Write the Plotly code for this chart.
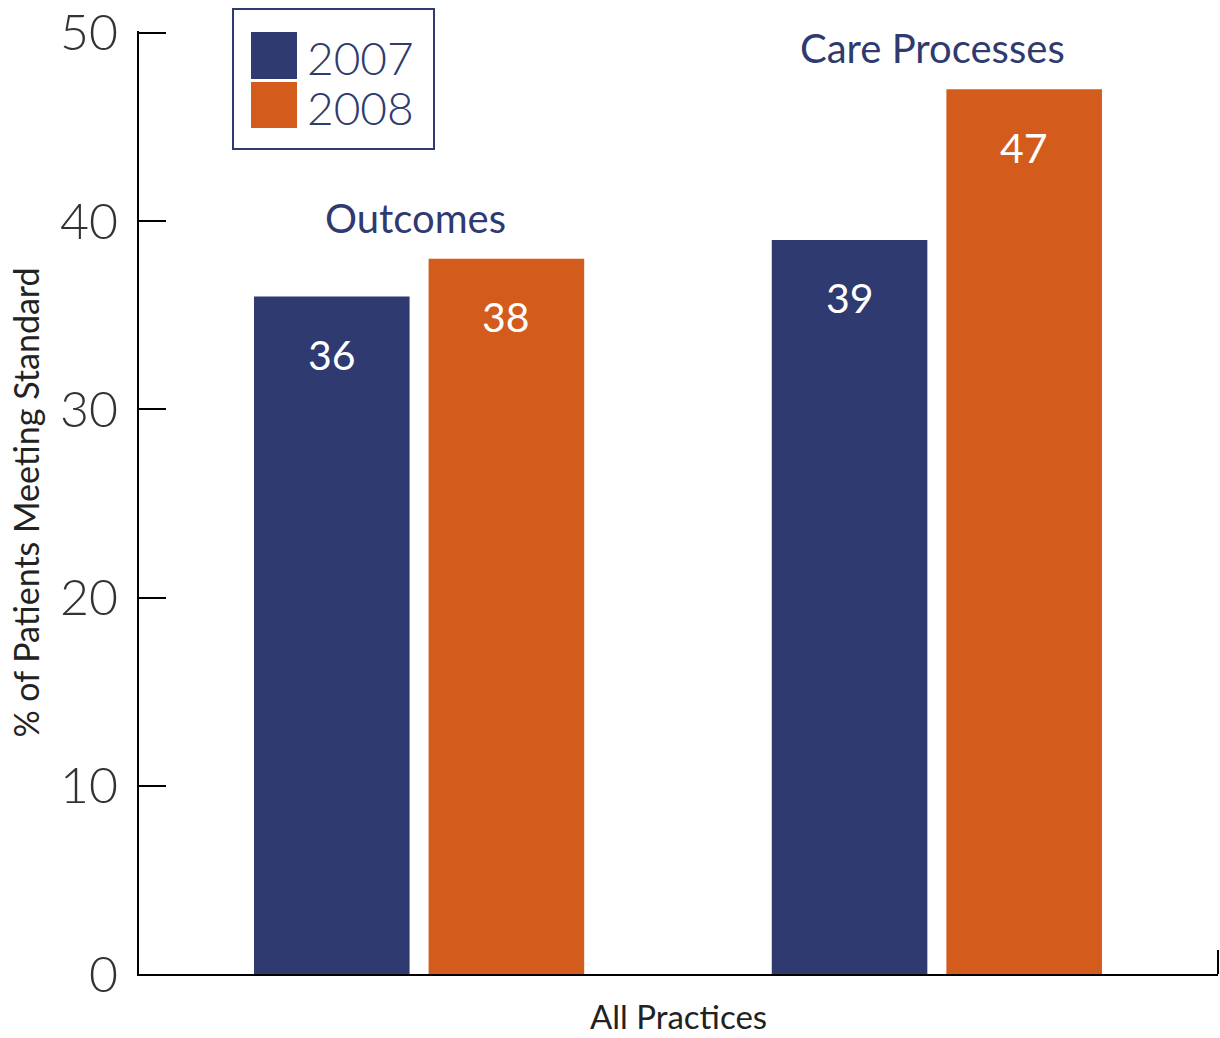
import plotly.graph_objects as go

# ---- data ----
categories = ["Outcomes", "Care Processes"]
years = ["2007", "2008"]
values_2007 = [36, 39]
values_2008 = [38, 47]
y_ticks = [0, 10, 20, 30, 40, 50]
y_title = "% of Patients Meeting Standard"
x_title = "All Practices"

NAVY = "#2E3A70"
ORANGE = "#D35B1C"
FONT = "Lato, 'Open Sans', sans-serif"

W, H = 1220, 1038
L, R, T, B = 139, 2, 31, 64
PW, PH = W - L - R, H - T - B


def px(x):
    return (x - L) / PW


def py(y):
    return (H - B - y) / PH


fig = go.Figure()
series = [(years[0], values_2007, NAVY), (years[1], values_2008, ORANGE)]
for name, vals, col in series:
    fig.add_trace(go.Bar(
        name=name, x=categories, y=vals,
        marker=dict(color=col, line=dict(width=0)),
        showlegend=False, hoverinfo="x+y+name",
    ))

annotations = []
shapes = []

# value labels inside bars (white)
for i, (name, vals, col) in enumerate(series):
    for c, v in zip(categories, vals):
        annotations.append(dict(
            x=c, y=v, xref="x", yref="y", text=str(v), showarrow=False,
            xshift=(-87 if i == 0 else 87), yshift=-58,
            font=dict(family=FONT, size=41, color="white"),
        ))

# group labels above bars
for c, v1, v2 in zip(categories, values_2007, values_2008):
    annotations.append(dict(
        x=c, y=max(v1, v2), xref="x", yref="y", text=c, showarrow=False,
        yanchor="bottom", yshift=15, xshift=-4,
        font=dict(family=FONT, size=40, color=NAVY),
    ))

# custom legend box
shapes.append(dict(type="rect", xref="paper", yref="paper",
                   x0=px(233), x1=px(434), y0=py(149), y1=py(9),
                   line=dict(color=NAVY, width=2), fillcolor="white", layer="above"))
sw_rows = [(32, 79), (82, 128)]
for (name, vals, col), (ya, yb) in zip(series, sw_rows):
    shapes.append(dict(type="rect", xref="paper", yref="paper",
                       x0=px(251), x1=px(297), y0=py(yb), y1=py(ya),
                       line=dict(width=0), fillcolor=col, layer="above"))
    annotations.append(dict(
        x=px(305), y=py((ya + yb) / 2 + 2), xref="paper", yref="paper",
        text=name, showarrow=False, xanchor="left", yanchor="middle",
        font=dict(family=FONT, size=46, color=NAVY, weight=300),
    ))

# small upward tick at right end of x axis
shapes.append(dict(type="line", xref="paper", yref="paper",
                   x0=1, x1=1, y0=0, y1=24 / PH,
                   line=dict(color="black", width=2)))

fig.update_layout(
    width=W, height=H,
    margin=dict(l=L, r=R, t=T, b=B, autoexpand=False),
    paper_bgcolor="white", plot_bgcolor="white",
    barmode="group", bargap=0.3255, bargroupgap=0.109,
    font=dict(family=FONT, color="#222"),
    annotations=annotations, shapes=shapes,
    xaxis=dict(
        type="category", range=[-0.541, 1.543],
        showticklabels=False, ticks="", showgrid=False, zeroline=False,
        showline=True, linecolor="black", linewidth=2,
        title=dict(text=x_title, font=dict(family=FONT, size=33, color="#222"), standoff=31),
        automargin=False,
    ),
    yaxis=dict(
        range=[0, 50.1], tickvals=y_ticks, ticktext=[str(t) for t in y_ticks],
        ticks="inside", ticklen=27, tickwidth=2, tickcolor="black",
        showline=True, linecolor="black", linewidth=2,
        showgrid=False, zeroline=False,
        tickfont=dict(family=FONT, size=50, color="#333", weight=300),
        ticklabelstandoff=9,
        title=dict(text=y_title, font=dict(family=FONT, size=34, color="#222"), standoff=10),
        automargin=False,
    ),
)

fig.write_html("out.html", config={"displayModeBar": False},
               post_script="document.body.style.margin='0';")
